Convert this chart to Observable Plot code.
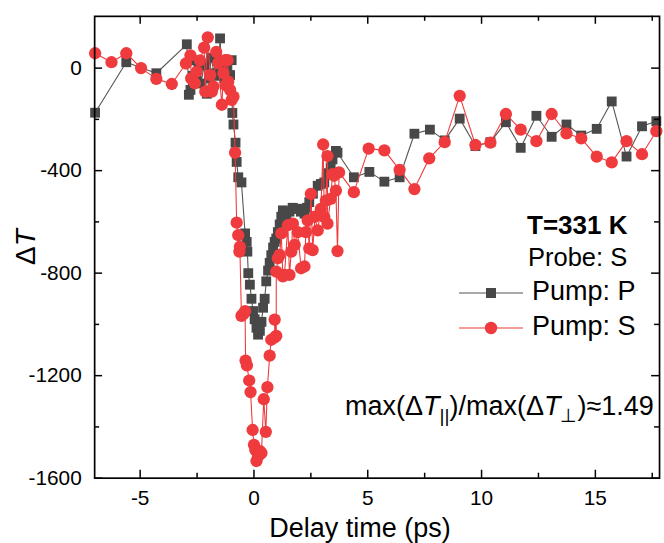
<!DOCTYPE html>
<html><head><meta charset="utf-8">
<script src="https://cdn.jsdelivr.net/npm/d3@7"></script>
<script src="https://cdn.jsdelivr.net/npm/@observablehq/plot@0.6"></script>
<style>
html,body{margin:0;padding:0;overflow:hidden;background:#fff;width:664px;height:543px}
#wrap{position:relative;width:664px;height:543px;overflow:hidden;font-family:"Liberation Sans",Arial,sans-serif}
.ov{position:absolute;white-space:nowrap;color:#000;line-height:1}
</style>
</head><body>
<div id="wrap"></div>
<script>
// ---- data: Pump P (grey squares) ----
const pumpP_t = [-6.98,-5.61,-4.29,-2.95,-2.86,-2.79,-2.68,-2.60,-2.51,-2.42,-2.33,-2.19,-2.07,-1.97,-1.88,-1.75,-1.66,-1.57,-1.49,-1.41,-1.30,-1.21,-1.12,-1.05,-0.98,-0.95,-0.90,-0.81,-0.76,-0.69,-0.55,-0.39,-0.32,-0.29,-0.25,-0.18,-0.11,-0.04,0.03,0.11,0.18,0.26,0.33,0.40,0.47,0.54,0.62,0.69,0.76,0.84,0.91,0.98,1.05,1.13,1.20,1.27,1.43,1.56,1.70,1.85,1.92,2.06,2.22,2.33,2.43,2.59,2.80,2.94,3.09,3.22,3.37,3.45,3.60,3.67,4.39,5.07,5.73,6.40,7.05,7.73,8.38,9.04,9.73,10.39,11.07,11.72,12.41,13.08,13.73,14.38,15.06,15.72,16.37,17.05,17.68];
const pumpP_dT = [-174,23,-20,93,-104,-85,-30,30,-50,20,-60,10,-100,-40,40,-20,50,-30,116,-14,-40,10,-30,-27,31,-175,-220,-291,-366,-426,-446,-645,-678,-716,-800,-845,-900,-948,-980,-1013,-1040,-1025,-990,-935,-900,-832,-790,-760,-730,-700,-678,-665,-640,-610,-580,-555,-575,-560,-545,-549,-549,-560,-568,-545,-523,-490,-459,-452,-446,-410,-388,-356,-323,-330,-426,-405,-443,-426,-256,-240,-282,-197,-304,-289,-211,-311,-186,-268,-220,-263,-237,-130,-345,-227,-207];
// ---- data: Pump S (red circles) ----
const pumpS_t = [-6.98,-6.26,-5.61,-4.96,-4.29,-3.61,-2.99,-2.79,-2.76,-2.60,-2.51,-2.37,-2.19,-2.14,-2.03,-1.92,-1.85,-1.78,-1.66,-1.57,-1.41,-1.34,-1.27,-1.24,-1.16,-1.13,-1.05,-0.98,-0.90,-0.83,-0.76,-0.69,-0.64,-0.62,-0.55,-0.47,-0.39,-0.37,-0.31,-0.21,-0.15,-0.06,0.00,0.06,0.11,0.18,0.27,0.33,0.43,0.52,0.59,0.69,0.76,0.91,0.91,0.98,0.98,1.05,1.13,1.20,1.27,1.34,1.49,1.56,1.64,1.71,1.79,1.92,2.07,2.22,2.28,2.36,2.43,2.50,2.58,2.68,2.80,2.94,3.04,3.09,3.16,3.23,3.23,3.37,3.45,3.52,3.60,3.67,3.74,4.39,5.04,5.73,6.40,7.05,7.70,8.38,9.04,9.73,10.39,11.07,11.72,12.41,13.08,13.73,14.38,15.06,15.72,16.37,17.05,17.68];
const pumpS_dT = [58,23,58,0,-42,-62,18,50,-40,-59,-14,30,80,-92,120,-27,-92,-72,63,20,-143,-20,31,-66,31,-53,-85,-124,-111,-330,-603,-652,-716,-697,-967,-960,-948,-1141,-1160,-1219,-1264,-1412,-1470,-1490,-1533,-1515,-1495,-1502,-1292,-1419,-1245,-1122,-1060,-1051,-981,-1045,-794,-742,-729,-645,-813,-807,-613,-807,-716,-607,-690,-640,-781,-774,-640,-594,-703,-491,-710,-580,-633,-549,-298,-581,-517,-343,-607,-510,-414,-420,-478,-714,-407,-484,-314,-321,-397,-472,-352,-289,-108,-300,-291,-179,-240,-285,-179,-255,-274,-345,-368,-285,-336,-246];

// ---- axes ----
const xDomain = [-7, 17.82];
const yDomain = [-1600, 202];
const xMajor = [-5, 0, 5, 10, 15];
const xMinor = [-2.5, 2.5, 7.5, 12.5, 17.5];
const yMajor = [0, -400, -800, -1200, -1600];
const yMinor = [-200, -600, -1000, -1400];
const xTickLabels = ["-5", "0", "5", "10", "15"];
const yTickLabels = ["0", "-400", "-800", "-1200", "-1600"];

const P = pumpP_t.map((t, i) => ({t, v: pumpP_dT[i]}));
const S = pumpS_t.map((t, i) => ({t, v: pumpS_dT[i]}));

const W = 670, H = 543, mL = 95, mR = 5, mT = 16, mB = 61;
const kx = (xDomain[1] - xDomain[0]) / (W - mL - mR);
const ky = (yDomain[1] - yDomain[0]) / (H - mT - mB);
const MAJ = 8, MIN = 5;
const grey = "#484848", red = "#ef3b3d";
const tk = {stroke: "black", strokeWidth: 1.5};

const chart = Plot.plot({
  width: W, height: H,
  marginLeft: mL, marginRight: mR, marginTop: mT, marginBottom: mB,
  x: {domain: xDomain},
  y: {domain: yDomain},
  style: {fontFamily: '"Liberation Sans", Arial, sans-serif', background: "white", color: "black"},
  marks: [
    Plot.line(P, {x: "t", y: "v", stroke: "#555", strokeWidth: 1.1}),
    Plot.dot(P, {x: "t", y: "v", symbol: "square", r: 5.6, fill: grey, stroke: "none"}),
    Plot.line(S, {x: "t", y: "v", stroke: red, strokeWidth: 1.1}),
    Plot.dot(S, {x: "t", y: "v", r: 6.2, fill: red, stroke: "none"}),
    // inward ticks, all four sides
    Plot.ruleY(yMajor, {y: d => d, x1: xDomain[0], x2: xDomain[0] + MAJ * kx, ...tk}),
    Plot.ruleY(yMinor, {y: d => d, x1: xDomain[0], x2: xDomain[0] + MIN * kx, ...tk}),
    Plot.ruleY(yMajor, {y: d => d, x1: xDomain[1], x2: xDomain[1] - MAJ * kx, ...tk}),
    Plot.ruleY(yMinor, {y: d => d, x1: xDomain[1], x2: xDomain[1] - MIN * kx, ...tk}),
    Plot.ruleX(xMajor, {x: d => d, y1: yDomain[0], y2: yDomain[0] + MAJ * ky, ...tk}),
    Plot.ruleX(xMinor, {x: d => d, y1: yDomain[0], y2: yDomain[0] + MIN * ky, ...tk}),
    Plot.ruleX(xMajor, {x: d => d, y1: yDomain[1], y2: yDomain[1] - MAJ * ky, ...tk}),
    Plot.ruleX(xMinor, {x: d => d, y1: yDomain[1], y2: yDomain[1] - MIN * ky, ...tk}),
    Plot.frame({stroke: "black", strokeWidth: 1.7}),
    Plot.axisX(xMajor, {tickSize: 0, tickPadding: 12, fontSize: 21, label: null, tickFormat: d => xTickLabels[xMajor.indexOf(d)]}),
    Plot.axisY(yMajor, {tickSize: 0, tickPadding: 13, fontSize: 21, label: null, tickFormat: d => yTickLabels[yMajor.indexOf(d)]})
  ]
});
const wrap = document.getElementById("wrap");
wrap.appendChild(chart);

function addText(html, left, baseline, size, extra) {
  const d = document.createElement("div");
  d.className = "ov";
  d.style.left = left + "px";
  d.style.fontSize = size + "px";
  d.style.top = (baseline - size * 0.905) + "px";
  if (extra) Object.assign(d.style, extra);
  d.innerHTML = html;
  wrap.appendChild(d);
  return d;
}
addText("T=331 K", 527, 236, 26, {fontWeight: "bold"});
addText("Probe: S", 528, 268, 25.5);
addText("Pump: P", 532, 302, 27);
addText("Pump: S", 532, 337, 27);
addText('max(Δ<i>T</i><sub style="font-size:19px;vertical-align:-7px">||</sub>)/max(Δ<i>T</i><sub style="font-size:19px;vertical-align:-7px">⊥</sub>)≈1.49', 345, 417, 27);
addText("Delay time (ps)", 360, 539, 27, {transform: "translateX(-50%)"});
// y label rotated
const yl = document.createElement("div");
yl.className = "ov";
yl.style.fontSize = "28px";
yl.style.left = "26px"; yl.style.top = "247px";
yl.style.transform = "translate(-50%,-50%) rotate(-90deg)";
yl.innerHTML = 'Δ<i>T</i>';
wrap.appendChild(yl);

// legend symbols
const ns = "http://www.w3.org/2000/svg";
const lg = document.createElementNS(ns, "svg");
lg.setAttribute("width", 80); lg.setAttribute("height", 60);
lg.style.position = "absolute"; lg.style.left = "455px"; lg.style.top = "280px";
lg.innerHTML = `<line x1="4" x2="68" y1="13" y2="13" stroke="#555" stroke-width="1.1"/>
<rect x="31" y="8" width="10" height="10" fill="${grey}"/>
<line x1="4" x2="68" y1="48" y2="48" stroke="${red}" stroke-width="1.1"/>
<circle cx="36" cy="48" r="6.2" fill="${red}"/>`;
wrap.appendChild(lg);
</script>
</body></html>
